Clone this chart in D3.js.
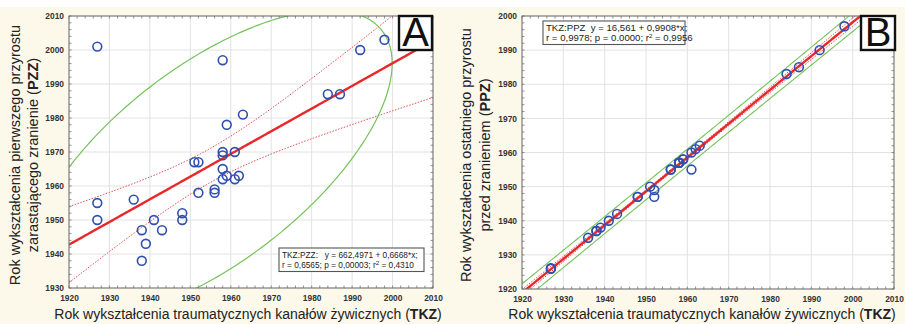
<!DOCTYPE html>
<html><head><meta charset="utf-8">
<script src="https://cdn.jsdelivr.net/npm/d3@7"></script>
<style>body{margin:0;background:#fff;}svg{display:block;font-family:"Liberation Sans",Arial,sans-serif;}</style>
</head><body>
<script>
// ---------- DATA ----------
const xTicks = [1920,1930,1940,1950,1960,1970,1980,1990,2000,2010];
const yTicksA = [1930,1940,1950,1960,1970,1980,1990,2000,2010];
const yTicksB = [1920,1930,1940,1950,1960,1970,1980,1990,2000];

// Panel A: TKZ vs PZZ
const tkzA = [1927,1927,1927,1936,1938,1938,1939,1941,1943,1948,1948,1951,1952,1952,1956,1956,1958,1958,1958,1958,1958,1959,1959,1961,1961,1962,1963,1984,1987,1992,1998];
const pzzA = [2001,1955,1950,1956,1947,1938,1943,1950,1947,1952,1950,1967,1967,1958,1959,1958,1997,1970,1969,1965,1962,1978,1963,1970,1962,1963,1981,1987,1987,2000,2003];
const coefA = [662.4971, 0.6668];
const legendA = ["TKZ:PZZ:\u00A0\u00A0\u00A0y = 662,4971 + 0,6668*x;", "r = 0,6565; p = 0,00003; r", "2", " = 0,4310"];

// Panel B: TKZ vs PPZ
const tkzB = [1927,1927,1927,1936,1938,1938,1939,1941,1943,1948,1948,1951,1952,1952,1956,1956,1958,1958,1958,1958,1958,1959,1959,1961,1961,1962,1963,1984,1987,1992,1998];
const ppzB = [1926,1926,1926,1935,1937,1937,1938,1940,1942,1947,1947,1950,1949,1947,1955,1955,1957,1957,1957,1957,1957,1958,1958,1955,1960,1961,1962,1983,1985,1990,1997];
const coefB = [16.561, 0.9908];
const legendB = ["TKZ:PPZ\u00A0\u00A0y = 16,561 + 0,9908*x;", "r = 0,9978; p = 0.0000; r", "2", " = 0,9956"];

const xTitle = ["Rok wykształcenia traumatycznych kanałów żywicznych (", "TKZ", ")"];
const yTitleA = [["Rok wykształcenia pierwszego przyrostu"], ["zarastającego zranienie (", "PZZ", ")"]];
const yTitleB = [["Rok wykształcenia ostatniego przyrostu"], ["przed zranieniem (", "PPZ", ")"]];

// ---------- HELPERS ----------
function stats(xs, ys, coef){
  const n = xs.length, mx = d3.mean(xs), my = d3.mean(ys);
  let sxx=0, syy=0, sxy=0, sse=0;
  xs.forEach((x,i)=>{const dx=x-mx, dy=ys[i]-my; sxx+=dx*dx; syy+=dy*dy; sxy+=dx*dy;
    const r=ys[i]-(coef[0]+coef[1]*x); sse+=r*r;});
  return {n, mx, my, sxx, syy, sxy, s: Math.sqrt(sse/(n-2))};
}
const T975 = 2.045;   // t(0.975, n-2)
const K_ELLIPSE = 2.56; // 95% ellipse scale

const svg = d3.select("body").append("svg").attr("width",905).attr("height",324);
svg.append("rect").attr("x",0).attr("y",7).attr("width",905).attr("height",317).attr("fill","#fcf8ea");

const defs = svg.append("defs");

function panel(o){
  const {id, x, y, yTicks, xs, ys, coef, legend, legendPos, legendFont, letter, letterBox, yTitle, yTitleX, xTitleX, band} = o;
  const [x0,x1] = x.range(), [y1,y0] = y.range();
  const g = svg.append("g");
  defs.append("clipPath").attr("id","clip"+id).append("rect")
     .attr("x",x0).attr("y",y0).attr("width",x1-x0).attr("height",y1-y0);
  g.append("rect").attr("x",x0).attr("y",y0).attr("width",x1-x0).attr("height",y1-y0).attr("fill","#fff");
  // grid
  g.append("g").selectAll("line").data(xTicks).join("line")
    .attr("x1",d=>x(d)).attr("x2",d=>x(d)).attr("y1",y0).attr("y2",y1).attr("stroke","#e2e2e2").attr("stroke-width",1);
  g.append("g").selectAll("line").data(yTicks).join("line")
    .attr("y1",d=>y(d)).attr("y2",d=>y(d)).attr("x1",x0).attr("x2",x1).attr("stroke","#e2e2e2").attr("stroke-width",1);
  // minor ticks (inside)
  const xm = d3.range(x.domain()[0], x.domain()[1]+0.1, 2);
  const ym = d3.range(y.domain()[0], y.domain()[1]+0.1, 2);
  const mt = g.append("g").attr("stroke","#777").attr("stroke-width",0.8);
  xm.forEach(v=>{ mt.append("line").attr("x1",x(v)).attr("x2",x(v)).attr("y1",y0).attr("y2",y0+2.5);
                  mt.append("line").attr("x1",x(v)).attr("x2",x(v)).attr("y1",y1).attr("y2",y1-2.5); });
  ym.forEach(v=>{ mt.append("line").attr("y1",y(v)).attr("y2",y(v)).attr("x1",x0).attr("x2",x0+2.5);
                  mt.append("line").attr("y1",y(v)).attr("y2",y(v)).attr("x1",x1).attr("x2",x1-2.5); });

  const st = stats(xs, ys, coef);
  const clip = g.append("g").attr("clip-path","url(#clip"+id+")");
  const xsLine = d3.range(x.domain()[0], x.domain()[1]+0.01, 0.5);
  const fit = v => coef[0]+coef[1]*v;
  const line = d3.line().x(d=>x(d[0])).y(d=>y(d[1]));
  const conf = v => T975*st.s*Math.sqrt(1/st.n + (v-st.mx)**2/st.sxx);
  const pred = v => T975*st.s*Math.sqrt(1 + 1/st.n + (v-st.mx)**2/st.sxx);

  if(band==="ellipse"){
    const n = st.n, k = K_ELLIPSE;
    const a = Math.sqrt(st.sxx/(n-1)), b = (st.sxy/(n-1))/a, c = Math.sqrt(st.syy/(n-1)-b*b);
    const pts = d3.range(0, 2*Math.PI+0.01, 0.02).map(t=>[st.mx + k*a*Math.cos(t), st.my + k*(b*Math.cos(t)+c*Math.sin(t))]);
    clip.append("path").attr("d",line(pts)).attr("fill","none").attr("stroke","#74c25a").attr("stroke-width",1.2);
  } else {
    [1,-1].forEach(sg=>clip.append("path").attr("d",line(xsLine.map(v=>[v, fit(v)+sg*pred(v)])))
       .attr("fill","none").attr("stroke","#74c25a").attr("stroke-width",1.1));
  }
  [1,-1].forEach(sg=>clip.append("path").attr("d",line(xsLine.map(v=>[v, fit(v)+sg*conf(v)])))
     .attr("fill","none").attr("stroke","#e04a4a").attr("stroke-width",1).attr("stroke-dasharray","1.5,1.5"));
  clip.append("path").attr("d",line(xsLine.map(v=>[v, fit(v)])))
     .attr("fill","none").attr("stroke","#e8282a").attr("stroke-width",2.4);

  clip.append("g").selectAll("circle").data(xs.map((v,i)=>[v,ys[i]])).join("circle")
    .attr("cx",d=>x(d[0])).attr("cy",d=>y(d[1])).attr("r",4.4)
    .attr("fill","none").attr("stroke","#2f4fae").attr("stroke-width",1.6);

  // border
  g.append("rect").attr("x",x0).attr("y",y0).attr("width",x1-x0).attr("height",y1-y0)
    .attr("fill","none").attr("stroke","#6e6e6e").attr("stroke-width",1);

  // axes labels
  const ax = g.append("g").attr("transform",`translate(0,${y1})`)
     .call(d3.axisBottom(x).tickValues(xTicks).tickSize(0).tickPadding(7).tickFormat(d3.format("d")));
  const ay = g.append("g").attr("transform",`translate(${x0},0)`)
     .call(d3.axisLeft(y).tickValues(yTicks).tickSize(0).tickPadding(5).tickFormat(d3.format("d")));
  [ax,ay].forEach(a=>{a.select(".domain").remove();
     a.selectAll("text").attr("font-size","8.4px").attr("font-weight","bold").attr("fill","#333")
      .attr("font-family","Liberation Sans, Arial, sans-serif");});

  // legend box
  const lg = g.append("g").attr("transform",`translate(${legendPos[0]},${legendPos[1]})`);
  lg.append("rect").attr("x",0).attr("y",0).attr("width",legendPos[2]).attr("height",23.5)
    .attr("fill","#fff").attr("stroke","#555").attr("stroke-width",1.1);
  lg.append("text").attr("x",3).attr("y",9.5).attr("font-size",legendFont+"px").attr("fill","#222").text(legend[0]);
  const t2 = lg.append("text").attr("x",3).attr("y",20).attr("font-size",legendFont+"px").attr("fill","#222");
  t2.append("tspan").text(legend[1]);
  t2.append("tspan").attr("dy",-3.5).attr("font-size","6.2px").text(legend[2]);
  t2.append("tspan").attr("dy",3.5).text(legend[3]);

  // letter box
  g.append("rect").attr("x",letterBox[0]).attr("y",letterBox[1]).attr("width",letterBox[2]).attr("height",letterBox[3])
    .attr("fill","#fff").attr("stroke","#111").attr("stroke-width",2.4);
  g.append("text").attr("x",letterBox[0]+letterBox[2]/2).attr("y",letterBox[1]+letterBox[3]-4)
    .attr("text-anchor","middle").attr("font-size","40px").attr("fill","#111").text(letter);

  // x title
  const xt = g.append("text").attr("x",xTitleX).attr("y",319).attr("text-anchor","middle")
    .attr("font-size","14px").attr("fill","#222");
  xt.append("tspan").text(xTitle[0]);
  xt.append("tspan").attr("font-weight","bold").text(xTitle[1]);
  xt.append("tspan").text(xTitle[2]);

  // y title
  yTitle.forEach((parts,i)=>{
    const t = g.append("text").attr("transform",`translate(${yTitleX[i]},155) rotate(-90)`)
      .attr("text-anchor","middle").attr("font-size","14.5px").attr("fill","#222");
    parts.forEach((p,j)=>t.append("tspan").attr("font-weight", j===1?"bold":"normal").text(p));
  });
}

panel({id:"A", x:d3.scaleLinear([1920,2010],[69,433]), y:d3.scaleLinear([1930,2010],[288,16]), yTicks:yTicksA,
  xs:tkzA, ys:pzzA, coef:coefA, legend:legendA, legendPos:[279,248,145], legendFont:8.3, letter:"A", letterBox:[399,16,33,34],
  yTitle:yTitleA, yTitleX:[20,38], xTitleX:248, band:"ellipse"});
panel({id:"B", x:d3.scaleLinear([1920,2010],[522,894]), y:d3.scaleLinear([1920,2000],[289,16]), yTicks:yTicksB,
  xs:tkzB, ys:ppzB, coef:coefB, legend:legendB, legendPos:[543,21,142], legendFont:9.6, letter:"B", letterBox:[861,16,34,34],
  yTitle:yTitleB, yTitleX:[471,490], xTitleX:702, band:"pred"});
</script>
</body></html>
